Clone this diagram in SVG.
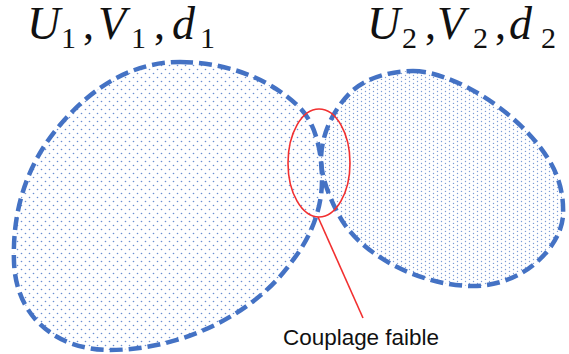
<svg xmlns="http://www.w3.org/2000/svg" width="569" height="354" viewBox="0 0 569 354">
<style>
.blob{stroke:#4472C4;stroke-width:4.5;stroke-dasharray:13 6;stroke-linejoin:round}
.m{font-family:"Liberation Serif","DejaVu Serif",serif;font-size:44px;fill:#111}
.it{font-style:italic;font-size:46px}
.sub{font-size:30px}
.red{fill:none;stroke:#F23030;stroke-width:1.6}
.note{font-family:"Liberation Sans",Arial,sans-serif;font-size:22px;fill:#111}
.d{fill:#4472C4}
</style>
<defs>
<pattern id="dots1" width="8" height="8" patternUnits="userSpaceOnUse">
<circle class="d" cx="1.5" cy="1.5" r="0.8" opacity="0.8"/>
<circle class="d" cx="5.5" cy="5.5" r="0.8" opacity="0.8"/>
</pattern>
<pattern id="dots2" width="8" height="8" patternUnits="userSpaceOnUse">
<circle class="d" cx="1.5" cy="1.5" r="0.7" opacity="0.7"/>
<circle class="d" cx="5.5" cy="3.5" r="0.7" opacity="0.7"/>
<circle class="d" cx="1.5" cy="5.5" r="0.7" opacity="0.7"/>
<circle class="d" cx="5.5" cy="7.5" r="0.7" opacity="0.7"/>
</pattern>
</defs>
<rect width="569" height="354" fill="#fff"/>
<g id="domain1">
<path class="blob" fill="url(#dots1)" d="M180,62 C225,62 270,78 300,108 C315,123 322,150 322,180 C322,210 310,238 293,260 C255,315 180,350 110,350 C60,350 16,320 14,262 C12,205 30,160 60,125 C95,84 135,62 180,62 Z"/>
<text class="m"><tspan class="it" x="27" y="39">U</tspan><tspan class="sub" x="61" y="48">1</tspan><tspan x="83" y="39">,</tspan><tspan class="it" x="98" y="39">V</tspan><tspan class="sub" x="131" y="48">1</tspan><tspan x="154" y="39">,</tspan><tspan class="it" x="172" y="39">d</tspan><tspan class="sub" x="200" y="48">1</tspan></text>
</g>
<g id="domain2">
<path class="blob" fill="url(#dots2)" d="M413,71 C450,71 515,108 547,157 C559,175 564,195 563,215 C562,245 525,286 473,286 C425,286 370,260 345,225 C335,211 321,180 321,160 C321,135 333,110 350,93 C365,78 390,71 413,71 Z"/>
<text class="m"><tspan class="it" x="367" y="39">U</tspan><tspan class="sub" x="402" y="48">2</tspan><tspan x="425" y="39">,</tspan><tspan class="it" x="437" y="39">V</tspan><tspan class="sub" x="473" y="48">2</tspan><tspan x="495" y="39">,</tspan><tspan class="it" x="509" y="39">d</tspan><tspan class="sub" x="541" y="48">2</tspan></text>
</g>
<g id="coupling">
<ellipse class="red" cx="319" cy="163" rx="31" ry="54"/>
<text class="note" x="283" y="345" textLength="156" lengthAdjust="spacingAndGlyphs">Couplage faible</text>
</g>
<g id="connectors">
<line class="red" x1="318" y1="217" x2="363" y2="318"/>
</g>
</svg>
